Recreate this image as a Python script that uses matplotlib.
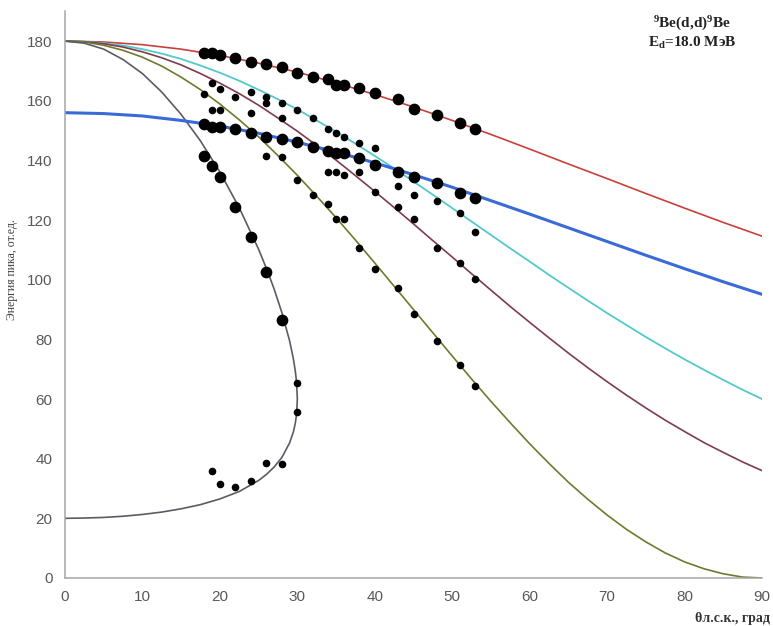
import matplotlib
matplotlib.use("Agg")
import matplotlib.pyplot as plt

plt.rcParams["mathtext.fontset"] = "custom"
plt.rcParams["mathtext.rm"] = "Liberation Serif"
plt.rcParams["mathtext.bf"] = "Liberation Serif:bold"

# kinematic curves; red and blue read every 5 deg, the more curved ones every 2.5 deg
theta = [0, 5, 10, 15, 20, 25, 30, 35, 40, 45, 50, 55, 60, 65, 70, 75, 80, 85, 90]
e_red = [180, 179.7, 178.8, 177.3, 175.2, 172.6, 169.6, 166.0, 162.1, 157.9,
         153.4, 148.7, 143.8, 138.8, 133.9, 128.9, 124.0, 119.2, 114.6]
e_blue = [156.0, 155.7, 154.9, 153.4, 151.5, 149.1, 146.1, 142.8, 139.2, 135.2,
          131.0, 126.5, 122.0, 117.4, 112.8, 108.2, 103.7, 99.3, 95.1]

theta_fine = [0, 2.5, 5, 7.5, 10, 12.5, 15, 17.5, 20, 22.5, 25, 27.5, 30, 32.5, 35, 37.5,
              40, 42.5, 45, 47.5, 50, 52.5, 55, 57.5, 60, 62.5, 65, 67.5, 70, 72.5,
              75, 77.5, 80, 82.5, 85, 87.5, 90]
e_cyan = [180, 179.8, 179.3, 178.5, 177.3, 175.8, 174.0, 171.8, 169.4, 166.7, 163.7,
          160.5, 157.1, 153.4, 149.6, 145.6, 141.5, 137.3, 132.9, 128.5, 124.0, 119.5,
          115.0, 110.5, 106.1, 101.6, 97.3, 93.0, 88.8, 84.8, 80.8, 77.0, 73.3, 69.8,
          66.4, 63.1, 60.0]
e_brown = [180, 179.8, 179.1, 178.0, 176.4, 174.4, 172.0, 169.1, 165.9, 162.4, 158.5,
           154.2, 149.8, 145.0, 140.1, 134.9, 129.6, 124.2, 118.7, 113.1, 107.6, 102.0,
           96.5, 91.0, 85.7, 80.5, 75.4, 70.5, 65.8, 61.3, 57.0, 52.9, 49.1, 45.4,
           42.1, 38.9, 36.0]
e_olive = [180, 179.7, 178.6, 176.9, 174.6, 171.6, 167.9, 163.7, 158.9, 153.6, 147.9,
           141.6, 135.0, 128.0, 120.8, 113.3, 105.6, 97.8, 90.0, 82.2, 74.4, 66.7,
           59.2, 52.0, 45.0, 38.4, 32.1, 26.4, 21.1, 16.3, 12.1, 8.4, 5.4, 3.1,
           1.4, 0.3, 0]

# double-valued curve (upper branch out to 30 deg, lower branch back)
theta_gray = [0, 2.5, 5, 7.5, 10, 12.5, 15, 17.5, 20, 22.5, 25, 26, 27, 28, 29, 29.5,
              29.75, 29.9, 30, 29.9, 29.75, 29.5, 29, 28, 27, 26, 25, 22.5, 20, 17.5,
              15, 12.5, 10, 7.5, 5, 2.5, 0]
e_gray = [180, 179.3, 177.3, 173.8, 169.1, 162.9, 155.4, 146.5, 136.1, 124.1, 110.2,
          103.8, 96.9, 89.0, 79.5, 73.3, 69.1, 65.6, 60.0, 54.9, 52.1, 49.1, 45.3,
          40.4, 37.2, 34.7, 32.7, 29.0, 26.5, 24.6, 23.2, 22.1, 21.3, 20.7, 20.3,
          20.1, 20.0]

# measured peaks
angles = [18, 19, 20, 22, 24, 26, 28, 30, 32, 34, 35, 36, 38, 40, 43, 45, 48, 51, 53]
peaks_red = [176.0, 176.0, 175.3, 174.3, 173.0, 172.3, 171.3, 169.3, 168.0, 167.3,
             165.3, 165.3, 164.3, 162.6, 160.6, 157.2, 155.2, 152.5, 150.5]
peaks_blue = [152.2, 151.2, 151.2, 150.5, 149.2, 147.8, 147.2, 146.2, 144.5, 143.1,
              142.5, 142.5, 140.8, 138.5, 136.1, 134.4, 132.4, 129.0, 127.5]
big_gray_angles = [18, 19, 20, 22, 24, 26, 28]
big_gray_peaks = [141.5, 138.1, 134.4, 124.4, 114.3, 102.6, 86.5]

small_angles = [18, 19, 20, 19, 20, 22, 24, 24, 26, 26, 28, 28, 30, 32, 34, 35, 36, 38, 40,
                26, 28, 30, 32, 34, 35, 36, 34, 35, 36, 38, 40, 43, 45, 48, 51, 53, 43, 45,
                38, 48, 40, 43, 45, 48, 51, 53, 51, 53, 30, 30,
                19, 20, 22, 24, 26, 28]
small_peaks = [162.3, 165.9, 163.9, 156.9, 156.9, 161.2, 162.9, 155.9, 161.2, 159.2, 159.2,
               154.2, 156.9, 154.2, 150.5, 149.2, 147.8, 145.8, 144.1,
               141.5, 141.2, 133.4, 128.4, 125.4, 120.3, 120.3, 136.1, 136.1, 135.1, 136.1,
               129.4, 131.4, 128.4, 126.4, 122.4, 116.0, 124.4, 120.3,
               110.6, 110.6, 103.6, 97.2, 88.5, 79.4, 71.4, 64.4, 105.6, 100.2, 65.4, 55.6,
               35.9, 31.5, 30.5, 32.5, 38.6, 38.2]

fig = plt.figure(figsize=(7.73, 6.26), dpi=100)
ax = fig.add_axes([0.0841, 0.0767, 0.9017, 0.9053])

ax.plot(theta, e_red, color="#c8413c", lw=1.2, zorder=2)
ax.plot(theta_fine, e_cyan, color="#52c9cc", lw=1.3, zorder=2)
ax.plot(theta_fine, e_brown, color="#7e3c4c", lw=1.2, zorder=2)
ax.plot(theta_fine, e_olive, color="#6f7a2e", lw=1.2, zorder=2)
ax.plot(theta_gray, e_gray, color="#5b5b66", lw=1.2, zorder=2)
ax.plot(theta, e_blue, color="#3a6ad8", lw=2.2, zorder=2)

ax.scatter(angles, peaks_red, s=55, color="black", zorder=3)
ax.scatter(angles, peaks_blue, s=55, color="black", zorder=3)
ax.scatter(big_gray_angles, big_gray_peaks, s=55, color="black", zorder=3)
ax.scatter(small_angles, small_peaks, s=20, color="black", zorder=3)

ax.set_xlim(0, 90)
ax.set_ylim(0, 190)
ax.set_xticks(range(0, 91, 10))
ax.set_yticks(range(0, 181, 20))
for s in ["top", "right"]:
    ax.spines[s].set_visible(False)
for s in ["left", "bottom"]:
    ax.spines[s].set_color("#a6a6a6")
    ax.spines[s].set_linewidth(1.1)
ax.tick_params(length=0, labelsize=11, labelcolor="#595959")
ax.tick_params(axis="y", pad=9)
ax.tick_params(axis="x", pad=9)
for lab in ax.get_xticklabels() + ax.get_yticklabels():
    lab.set_family("Liberation Sans")

fig.text(0.016, 0.489, "Энергия пика, от.ед.", rotation=90, ha="center", va="bottom",
         family="Liberation Serif", fontsize=8.5, color="#404040")
fig.text(0.948, 0.002, "θл.с.к., град", ha="center", va="bottom",
         family="Liberation Serif", fontsize=10, weight="bold", color="#333333")
fig.text(0.895, 0.977, r"$\mathbf{^{9}}$Be(d,d)$\mathbf{^{9}}$Be", ha="center", va="top",
         family="Liberation Serif", fontsize=11, weight="bold", color="#222222")
fig.text(0.895, 0.945, r"E$\mathbf{_d}$=18.0 МэВ", ha="center", va="top",
         family="Liberation Serif", fontsize=11, weight="bold", color="#222222")

fig.savefig("out.png", dpi=100)
